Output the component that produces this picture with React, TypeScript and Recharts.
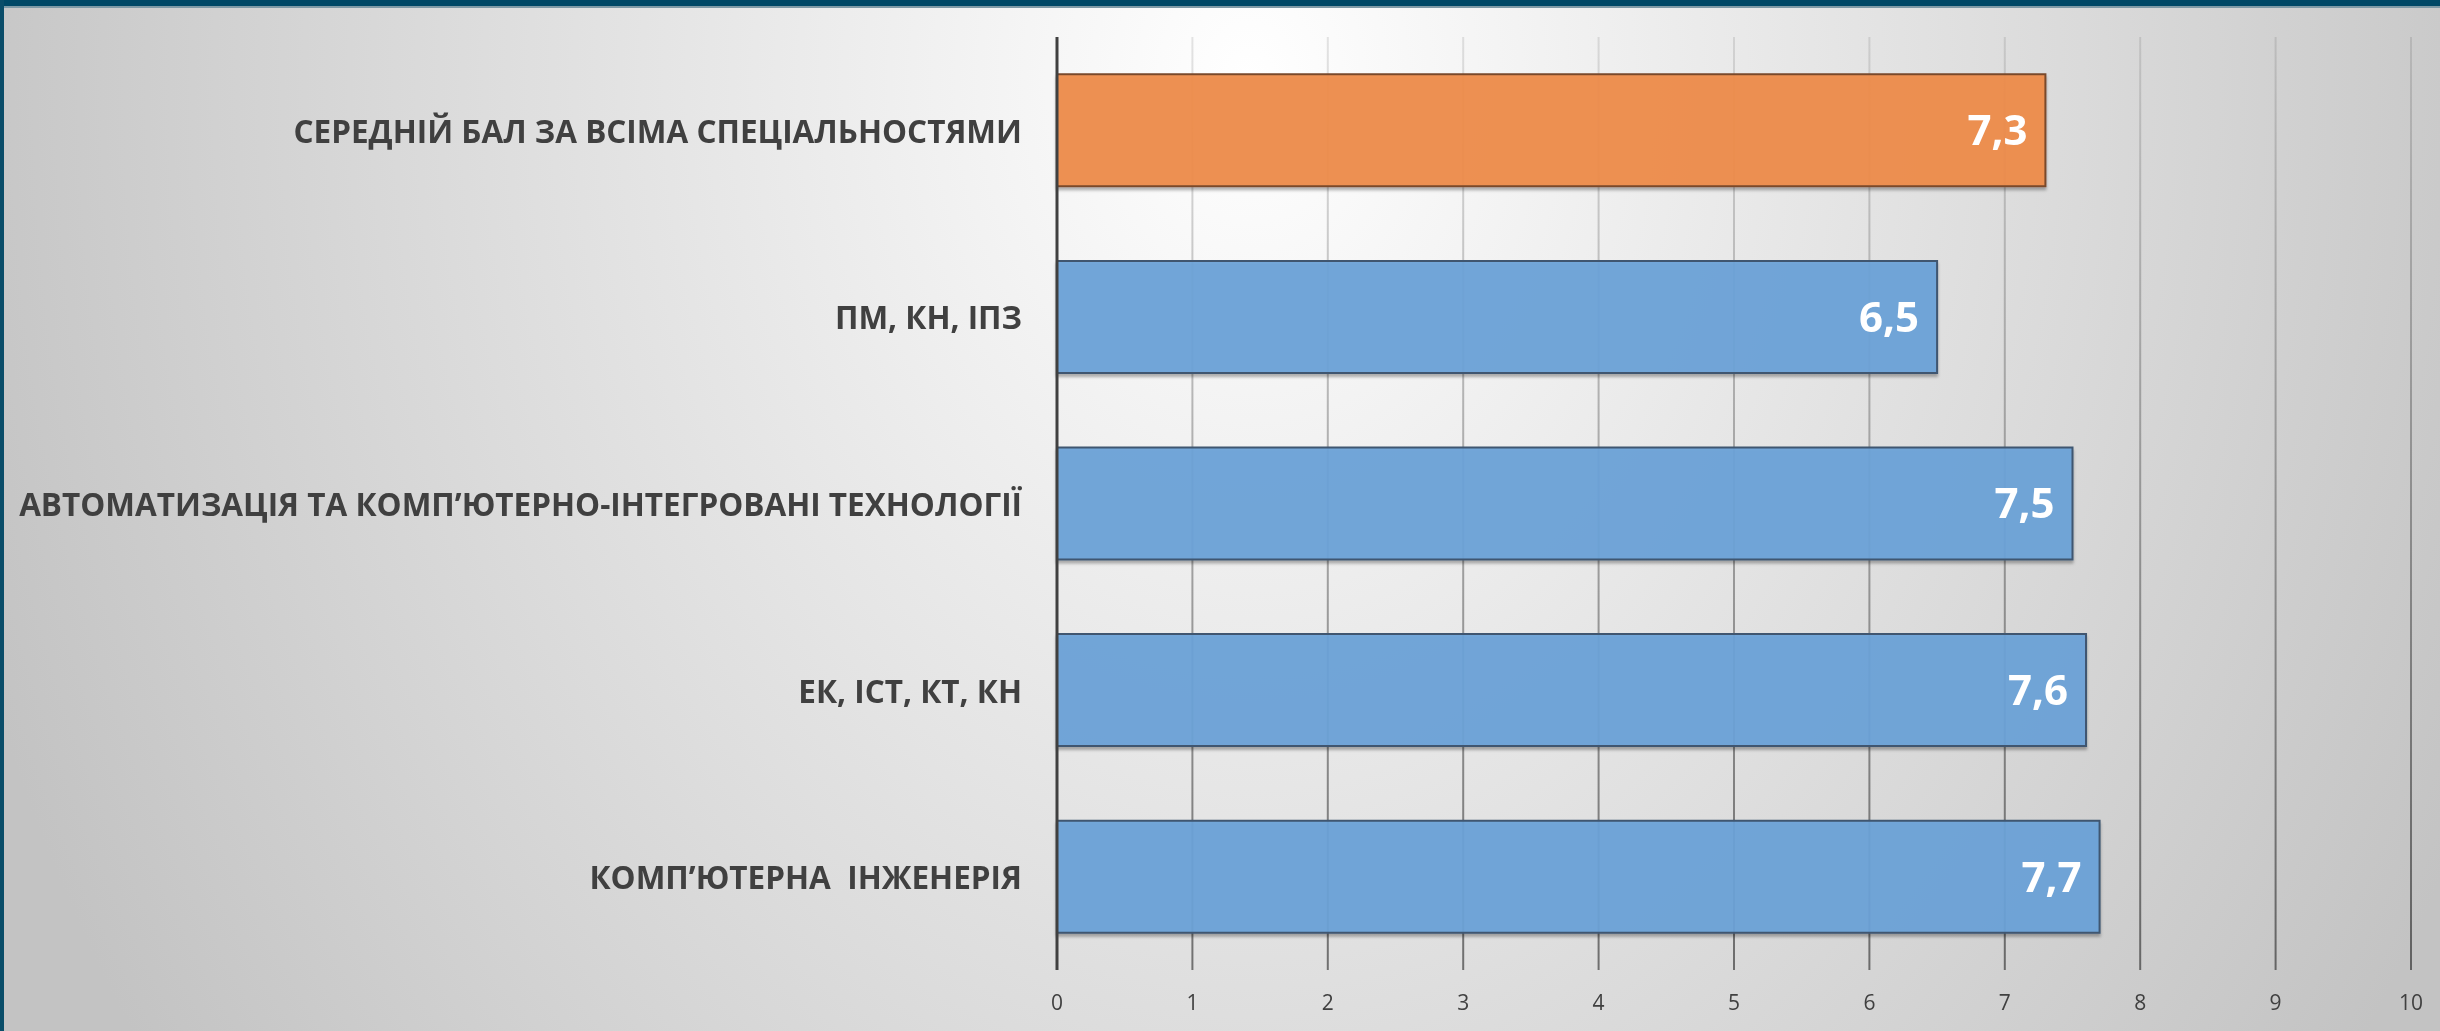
import { BarChart, Bar, XAxis, YAxis, CartesianGrid, Cell, LabelList } from "recharts";

const categories = [
  "СЕРЕДНІЙ БАЛ ЗА ВСІМА СПЕЦІАЛЬНОСТЯМИ",
  "ПМ, КН, ІПЗ",
  "АВТОМАТИЗАЦІЯ ТА КОМП’ЮТЕРНО-ІНТЕГРОВАНІ ТЕХНОЛОГІЇ",
  "ЕК, ІСТ, КТ, КН",
  "КОМП’ЮТЕРНА  ІНЖЕНЕРІЯ",
];
const scores = [7.3, 6.5, 7.5, 7.6, 7.7];
const xTicks = [0, 1, 2, 3, 4, 5, 6, 7, 8, 9, 10];

const chartData = categories.map((name, i) => ({ name, value: scores[i] }));

const FONT = "'Open Sans', 'Noto Sans', sans-serif";

function CategoryTick(props: any) {
  const { x, y, payload } = props;
  return (
    <text
      x={x - 35}
      y={y}
      textAnchor="end"
      dominantBaseline="central"
      fill="#404040"
      fontSize={31.5}
      fontWeight={700}
      fontFamily={FONT}
      style={{ whiteSpace: "pre" }}
    >
      {payload.value}
    </text>
  );
}

function ValueTick(props: any) {
  const { x, y, payload } = props;
  return (
    <text
      x={x}
      y={y + 32}
      textAnchor="middle"
      dominantBaseline="central"
      fill="#404040"
      fontSize={21}
      fontFamily={FONT}
    >
      {payload.value}
    </text>
  );
}

export default function App() {
  return (
    <div
      style={{
        position: "fixed",
        left: 0,
        top: 0,
        width: 2440,
        height: 1031,
        background:
          "radial-gradient(ellipse 1350px 1700px at 1250px 80px, #ffffff 0%, #c3c3c3 100%)",
        overflow: "hidden",
      }}
    >
      <div style={{ position: "absolute", left: 0, top: 0, width: 2440, height: 6, background: "#004866" }} />
      <div style={{ position: "absolute", left: 0, top: 6, width: 2440, height: 2, background: "#7f9aa6" }} />
      <div style={{ position: "absolute", left: 0, top: 0, width: 4, height: 1031, background: "#0a4d69" }} />
      <div style={{ position: "absolute", left: 0, top: 0 }}>
        <BarChart
          width={2440}
          height={1031}
          data={chartData}
          layout="vertical"
          margin={{ top: 37, right: 29, bottom: 31, left: 0 }}
          barCategoryGap="20%"
        >
          <defs>
            <linearGradient id="gridGrad" x1="0" y1="37" x2="0" y2="970" gradientUnits="userSpaceOnUse">
              <stop offset="0%" stopColor="#000" stopOpacity={0.1} />
              <stop offset="100%" stopColor="#000" stopOpacity={0.5} />
            </linearGradient>
            <filter id="barShadow" x="-5%" y="-10%" width="110%" height="130%">
              <feDropShadow dx="0" dy="3" stdDeviation="1.5" floodColor="#000" floodOpacity={0.3} />
            </filter>
          </defs>
          <CartesianGrid horizontal={false} stroke="url(#gridGrad)" strokeWidth={2} />
          <XAxis
            type="number"
            domain={[0, 10]}
            ticks={xTicks}
            height={30}
            axisLine={false}
            tickLine={false}
            tickSize={0}
            tickMargin={0}
            tick={<ValueTick />}
            interval={0}
          />
          <YAxis
            type="category"
            dataKey="name"
            width={1057}
            axisLine={{ stroke: "#404040", strokeWidth: 3 }}
            tickLine={false}
            tickSize={0}
            tickMargin={0}
            tick={<CategoryTick />}
            interval={0}
          />
          <Bar dataKey="value" isAnimationActive={false} strokeWidth={2} filter="url(#barShadow)">
            {chartData.map((d, i) => (
              <Cell
                key={d.name}
                fill={i === 0 ? "#ef8c4a" : "#6aa3d8"}
                fillOpacity={0.93}
                stroke={i === 0 ? "#7a4a2c" : "#3f5670"}
              />
            ))}
            <LabelList
              dataKey="value"
              position="insideRight"
              offset={18}
              formatter={(v: any) => Number(v).toFixed(1).replace(".", ",")}
              fill="#ffffff"
              fontSize={42}
              fontWeight={700}
              fontFamily={FONT}
            />
          </Bar>
        </BarChart>
      </div>
    </div>
  );
}
